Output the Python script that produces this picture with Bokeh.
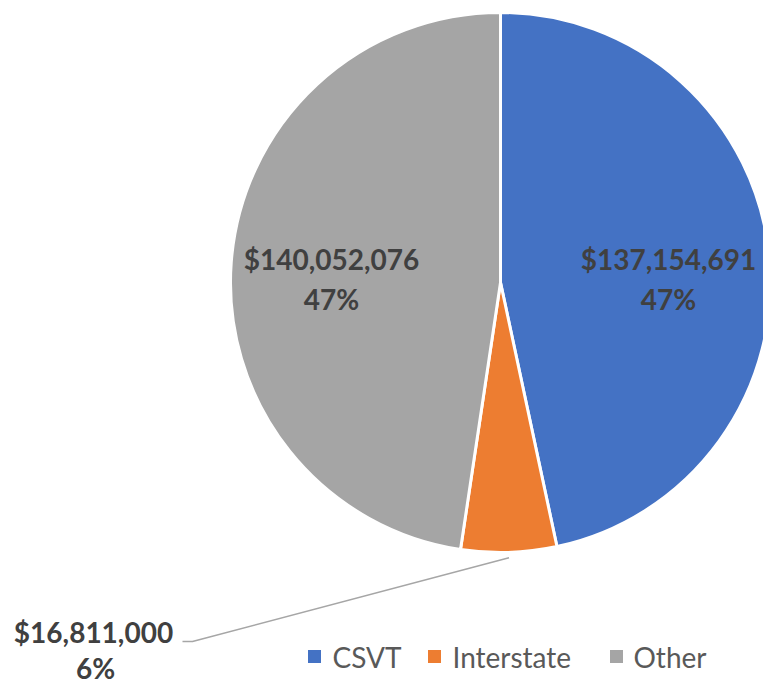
import math
from bokeh.plotting import figure
from bokeh.models import Range1d, ColumnDataSource
from bokeh.core.properties import value
from bokeh.embed import file_html
from bokeh.resources import INLINE

# ---- data ----
categories = ["CSVT", "Interstate", "Other"]
amounts = [137154691, 16811000, 140052076]
pct_labels = ["47%", "6%", "47%"]
colors = ["#4472C4", "#ED7D31", "#A5A5A5"]

# ---- layout (screen pixels -> data units; 1 unit = 1 px) ----
W, H = 763, 684
def dx(sx):
    return sx
def dy(sy):
    return H - sy

cx, cy, R = dx(500), dy(282), 270

total = float(sum(amounts))
starts, ends, mids = [], [], []
cum = 0.0
for a in amounts:
    s = math.pi / 2 - 2 * math.pi * cum / total
    cum += a
    e = math.pi / 2 - 2 * math.pi * cum / total
    starts.append(s)
    ends.append(e)
    mids.append((s + e) / 2)

p = figure(width=W, height=H, output_backend="svg", toolbar_location=None,
           x_range=Range1d(0, W), y_range=Range1d(0, H), min_border=0)
p.axis.visible = False
p.grid.visible = False
p.outline_line_color = None
p.background_fill_color = "white"
p.border_fill_color = "white"

src = ColumnDataSource(dict(start=starts, end=ends, color=colors, cat=categories))
p.wedge(x=cx, y=cy, radius=R, start_angle="start", end_angle="end",
        direction="clock", fill_color="color", line_color="white",
        line_width=3, source=src)

# data labels
money = ["${:,}".format(a) for a in amounts]
label_pos = [((668, 258), (668, 298)),
             ((93, 631), (95, 667)),
             ((331, 258), (331, 298))]
for i in range(len(categories)):
    (x1, y1), (x2, y2) = label_pos[i]
    p.text(x=[dx(x1), dx(x2)], y=[dy(y1), dy(y2)], text=[money[i], pct_labels[i]],
           text_font=value("Lato"), text_font_style="bold",
           text_font_size="28px", text_color="#404040",
           text_align="center", text_baseline="middle")

# leader line for the small slice
m = mids[1]
lx0 = cx + 1.02 * R * math.cos(m)
ly0 = cy + 1.02 * R * math.sin(m)
p.line(x=[lx0, dx(192), dx(182)], y=[ly0, dy(641), dy(641)],
       line_color="#A6A6A6", line_width=1.5)

# legend
sq_x = [314, 434, 616]
tx_x = [332, 452, 633]
for i, c in enumerate(categories):
    p.rect(x=[dx(sq_x[i])], y=[dy(656)], width=13, height=13,
           fill_color=colors[i], line_color=None)
    p.text(x=[dx(tx_x[i])], y=[dy(656)], text=[c], text_font=value("Lato"),
           text_font_size="28px", text_color="#595959",
           text_align="left", text_baseline="middle")

open("out.html", "w").write(file_html(p, INLINE))
